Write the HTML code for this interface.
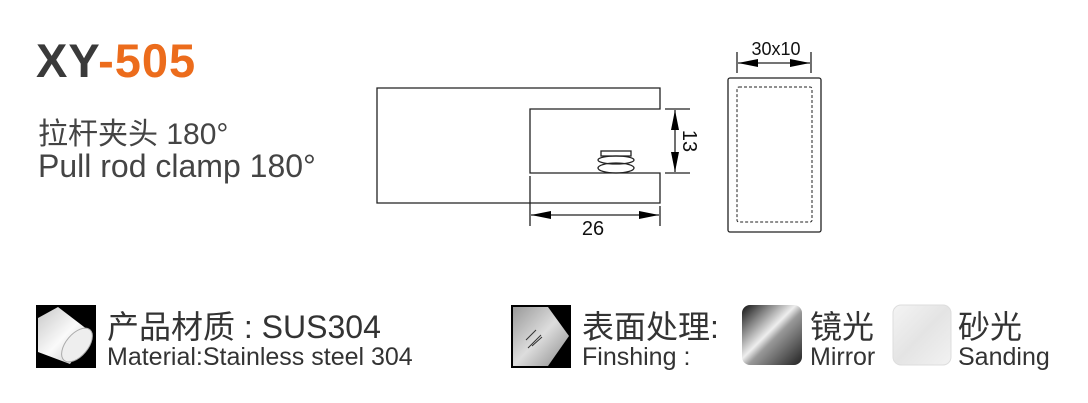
<!DOCTYPE html>
<html><head><meta charset="utf-8"><style>
body{margin:0;width:1088px;height:403px;background:#fff;position:relative;overflow:hidden;font-family:"Liberation Sans","Noto Sans CJK SC",sans-serif;color:#333}
.t{position:absolute;white-space:nowrap}
</style></head><body>
<div class="t" style="left:36px;top:33px;font-size:47px;font-weight:bold;color:#3a3a3a;letter-spacing:1px">XY<span style="color:#ec6c1c">-505</span></div>
<div class="t" style="left:38px;top:109px;font-size:30px;color:#444">拉杆夹头 180°</div>
<div class="t" style="left:38px;top:148px;font-size:32px;color:#444">Pull rod clamp 180°</div>

<svg width="1088" height="403" style="position:absolute;left:0;top:0" font-family="Liberation Sans, sans-serif">
<defs>
<linearGradient id="cyl" x1="0" y1="0" x2="1" y2="1"><stop offset="0" stop-color="#c8c8c8"/><stop offset=".5" stop-color="#fafafa"/><stop offset="1" stop-color="#bbb"/></linearGradient>
<linearGradient id="gl" x1="0" y1="0" x2="1" y2="1"><stop offset="0" stop-color="#999"/><stop offset=".5" stop-color="#ddd"/><stop offset="1" stop-color="#888"/></linearGradient>
<linearGradient id="mir" x1="0" y1="0" x2="1" y2="1"><stop offset="0" stop-color="#111"/><stop offset=".45" stop-color="#eee"/><stop offset=".55" stop-color="#999"/><stop offset="1" stop-color="#222"/></linearGradient>
<linearGradient id="snd" x1="0" y1="0" x2="1" y2="1"><stop offset="0" stop-color="#f4f4f4"/><stop offset=".5" stop-color="#e4e4e4"/><stop offset="1" stop-color="#f2f2f2"/></linearGradient>
<marker id="a" viewBox="0 0 20 8" refX="20" refY="4" markerWidth="20" markerHeight="8" orient="auto-start-reverse" markerUnits="userSpaceOnUse"><path d="M0 0L20 4L0 8z" fill="#000"/></marker>
</defs>
<g stroke="#222" stroke-width="1.3" fill="none">
<path d="M377 88H660V109H530V173H660V203H377Z"/>
<rect x="601" y="151" width="30" height="5"/>
<ellipse cx="616" cy="160" rx="18" ry="4"/>
<ellipse cx="616" cy="168" rx="18" ry="5"/>
<path d="M665 109H690M665 173H690M530 176V226M660 206V226M737 52V73M811 52V73"/>
<path d="M675 110V172" marker-start="url(#a)" marker-end="url(#a)"/>
<path d="M531 215H659" marker-start="url(#a)" marker-end="url(#a)"/>
<path d="M738 63H810" marker-start="url(#a)" marker-end="url(#a)"/>
<rect x="728" y="78" width="93" height="154" rx="2"/>
<rect x="737" y="87" width="75" height="135" rx="2" stroke-dasharray="3,2" stroke-width="1"/>
</g>
<text x="593" y="235" font-size="20" text-anchor="middle" fill="#111">26</text>
<text x="776" y="55" font-size="18" text-anchor="middle" fill="#111">30x10</text>
<text transform="translate(683 141) rotate(90)" font-size="20" text-anchor="middle" fill="#111">13</text>

<rect x="36" y="305" width="60" height="63" fill="#000"/>
<path d="M38 318L58 307L92 333L70 364L38 352Z" fill="url(#cyl)"/>
<ellipse cx="77" cy="345" rx="11" ry="20" transform="rotate(40 77 345)" fill="#eee" stroke="#aaa"/>
<rect x="511" y="305" width="60" height="63" fill="#000"/>
<path d="M513 307H548L569 336L548 366H513Z" fill="url(#gl)"/>
<path d="M526 340L536 330M528 348L541 335M532 346L542 337" stroke="#333" stroke-width="1"/>
<rect x="742" y="305" width="60" height="60" rx="8" fill="url(#mir)"/>
<rect x="893" y="305" width="58" height="60" rx="8" fill="url(#snd)" stroke="#ddd"/>
</svg>

<div class="t" style="left:107px;top:302px;font-size:32px;color:#333">产品材质 : SUS304</div>
<div class="t" style="left:107px;top:343px;font-size:25px;color:#333">Material:Stainless steel 304</div>
<div class="t" style="left:582px;top:302px;font-size:32px;color:#333">表面处理:</div>
<div class="t" style="left:582px;top:343px;font-size:25px;color:#333">Finshing :</div>
<div class="t" style="left:810px;top:302px;font-size:32px;color:#333">镜光</div>
<div class="t" style="left:810px;top:343px;font-size:25px;color:#333">Mirror</div>
<div class="t" style="left:958px;top:302px;font-size:32px;color:#333">砂光</div>
<div class="t" style="left:958px;top:343px;font-size:25px;color:#333">Sanding</div>
</body></html>
